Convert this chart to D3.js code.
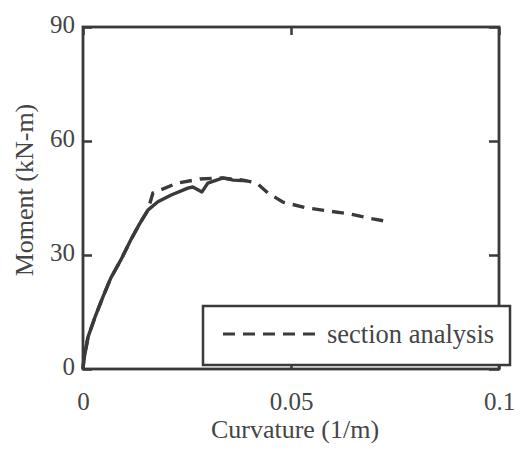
<!DOCTYPE html>
<html>
<head>
<meta charset="utf-8">
<script src="https://cdn.jsdelivr.net/npm/d3@7"></script>
<style>
  body { margin: 0; background: #fff; }
  svg { display: block; }
</style>
</head>
<body>
<svg width="521" height="450"></svg>
<script>
// curvature (1/m) / moment (kN-m)
const testCurv = [0, 0.0002, 0.0012, 0.0029, 0.0048, 0.0067, 0.0091, 0.0115, 0.0137, 0.0156, 0.018, 0.0212, 0.0252, 0.0264, 0.0286, 0.0300, 0.0321, 0.0337, 0.0361, 0.0394];
const testMoment = [0, 2.4, 8.4, 13.7, 19, 24, 28.7, 34, 38.4, 41.8, 44, 45.8, 47.6, 47.9, 46.6, 48.9, 49.7, 50.3, 49.7, 49.5];

const secCurv = [0, 0.0002, 0.0012, 0.0029, 0.0048, 0.0067, 0.0091, 0.0115, 0.0137, 0.0156, 0.0168, 0.0226, 0.0281, 0.0329, 0.0385, 0.0418, 0.0445, 0.0481, 0.0538, 0.0589, 0.0642, 0.0697, 0.0738];
const secMoment = [0, 2.4, 8.4, 13.7, 19, 24, 28.7, 34, 38.4, 41.8, 46.3, 48.9, 50, 50.3, 49.7, 48.9, 46.3, 43.9, 42.4, 41.6, 40.8, 39.5, 38.7];

const xTicks = [0, 0.05, 0.1];
const xTickLabels = ["0", "0.05", "0.1"];
const yTicks = [0, 30, 60, 90];
const legendLabel = "section analysis";

const svg = d3.select("svg")
  .attr("font-family", "'Liberation Serif', 'Times New Roman', serif");
const ink = "#3a3a3a";
const txt = "#454545";

const margin = {left: 83, right: 22, top: 27, bottom: 81};
const width = +svg.attr("width");
const height = +svg.attr("height");
const innerWidth = width - margin.left - margin.right;
const innerHeight = height - margin.top - margin.bottom;

const g = svg.append("g")
  .attr("transform", `translate(${margin.left},${margin.top})`);

const xScale = d3.scaleLinear().domain([0, 0.1]).range([0, innerWidth]);
const yScale = d3.scaleLinear().domain([0, 90]).range([innerHeight, 0]);

// axes, ticks pointing into the box
const xAxis = d3.axisBottom(xScale).tickValues(xTicks)
  .tickFormat((d, i) => xTickLabels[i]).tickSize(-8).tickPadding(23);
const yAxis = d3.axisLeft(yScale).tickValues(yTicks)
  .tickFormat(d3.format("d")).tickSize(-9).tickPadding(8);

g.append("g").attr("class", "ax").attr("transform", `translate(0,${innerHeight})`).call(xAxis);
g.append("g").attr("class", "ax yax").call(yAxis);
// mirrored ticks on top and right, no labels
g.append("g").attr("class", "mirror").call(d3.axisTop(xScale).tickValues(xTicks).tickSize(-8));
g.append("g").attr("class", "mirror").attr("transform", `translate(${innerWidth},0)`)
  .call(d3.axisRight(yScale).tickValues(yTicks).tickSize(-10));
g.selectAll(".mirror .tick text").remove();

g.selectAll(".ax, .mirror")
  .attr("font-family", null)
  .attr("font-size", 25);
g.selectAll(".domain").remove();
g.selectAll(".tick line").attr("stroke", ink).attr("stroke-width", 2.5);
g.selectAll(".tick text").attr("fill", txt);
g.selectAll(".yax .tick text").attr("dy", "0.2em");

// frame
g.append("rect")
  .attr("x", 0).attr("y", 0)
  .attr("width", innerWidth).attr("height", innerHeight)
  .attr("fill", "none").attr("stroke", ink).attr("stroke-width", 2.8);

// curves
const line = d3.line()
  .x(d => xScale(d[0]))
  .y(d => yScale(d[1]));

const sec = secCurv.map((c, i) => [c, secMoment[i]]);
const test = testCurv.map((c, i) => [c, testMoment[i]]);

g.append("path").datum(sec)
  .attr("d", line)
  .attr("fill", "none").attr("stroke", ink)
  .attr("stroke-width", 3.4).attr("stroke-dasharray", "12,8");

g.append("path").datum(test)
  .attr("d", line)
  .attr("fill", "none").attr("stroke", ink)
  .attr("stroke-width", 3.4).attr("stroke-linejoin", "round");

// legend
const lg = svg.append("g").attr("transform", "translate(203,306)");
lg.append("rect")
  .attr("x", 0).attr("y", 0).attr("width", 307).attr("height", 59)
  .attr("fill", "#fff").attr("stroke", ink).attr("stroke-width", 2.5);
lg.append("line")
  .attr("x1", 20).attr("x2", 113).attr("y1", 28).attr("y2", 28)
  .attr("stroke", ink).attr("stroke-width", 3).attr("stroke-dasharray", "12,8");
lg.append("text")
  .attr("x", 124).attr("y", 37)
  .attr("fill", txt)
  .attr("font-size", 26.5)
  .text(legendLabel);

// axis titles
svg.append("text")
  .attr("x", 295).attr("y", 438)
  .attr("text-anchor", "middle")
  .attr("fill", txt)
  .attr("font-size", 26)
  .text("Curvature (1/m)");

svg.append("text")
  .attr("transform", "rotate(-90)")
  .attr("x", -190).attr("y", 33)
  .attr("text-anchor", "middle")
  .attr("fill", txt)
  .attr("font-size", 26)
  .text("Moment (kN-m)");
</script>
</body>
</html>
